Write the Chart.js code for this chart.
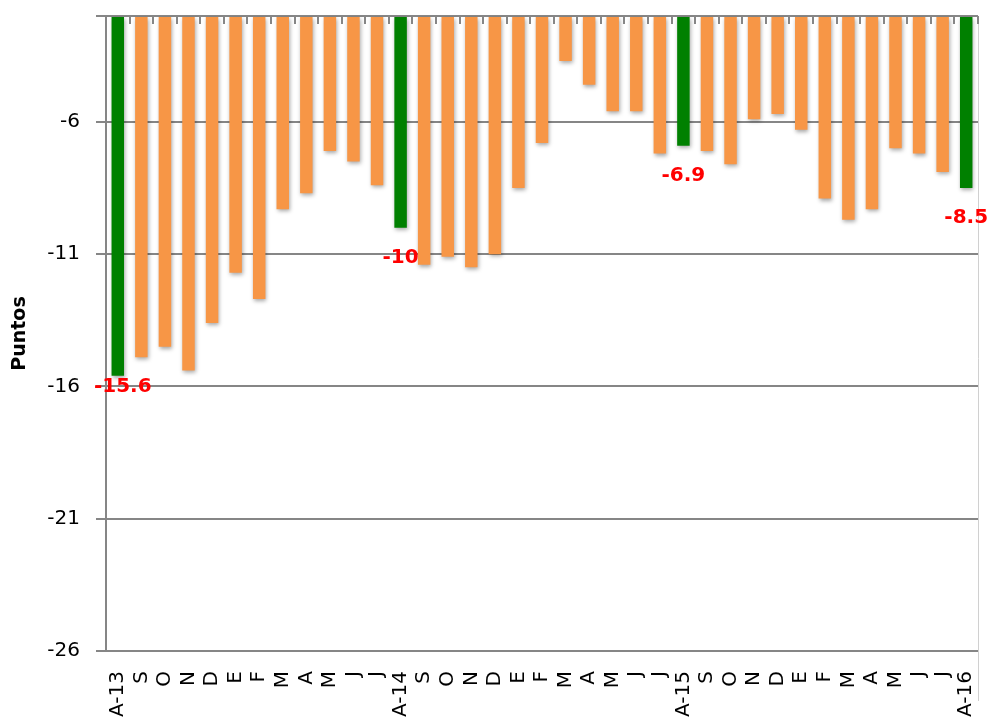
<!DOCTYPE html>
<html>
<head>
<meta charset="utf-8">
<script src="https://cdn.jsdelivr.net/npm/chart.js@4/dist/chart.umd.min.js"></script>
<style>
  html, body { margin: 0; padding: 0; background: #fff; }
  #wrap { width: 991px; height: 723px; }
</style>
</head>
<body>
<div id="wrap"><canvas id="puntosChart" width="991" height="723"></canvas></div>
<script>
const labels = ['A-13', 'S', 'O', 'N', 'D', 'E', 'F', 'M', 'A', 'M', 'J', 'J',
  'A-14', 'S', 'O', 'N', 'D', 'E', 'F', 'M', 'A', 'M', 'J', 'J',
  'A-15', 'S', 'O', 'N', 'D', 'E', 'F', 'M', 'A', 'M', 'J', 'J',
  'A-16'];

const values = [-15.6, -14.9, -14.5, -15.4, -13.6, -11.7, -12.7, -9.3, -8.7, -7.1, -7.5, -8.4,
  -10.0, -11.4, -11.1, -11.5, -11.0, -8.5, -6.8, -3.7, -4.6, -5.6, -5.6, -7.2,
  -6.9, -7.1, -7.6, -5.9, -5.7, -6.3, -8.9, -9.7, -9.3, -7.0, -7.2, -7.9,
  -8.5];

// August of each year is highlighted and labelled
const highlighted = ['A-13', 'A-14', 'A-15', 'A-16'];

const yTicks = [-26, -21, -16, -11, -6, -2];
const yMin = -26;
const yMax = -2;

const ORANGE = '#F79646';
const GREEN = '#008000';
const GRID = '#868686';
const FONT = '"DejaVu Sans", Verdana, sans-serif';

const barColors = labels.map(l => highlighted.includes(l) ? GREEN : ORANGE);

const shadowPlugin = {
  id: 'barShadow',
  beforeDatasetsDraw(chart) {
    const c = chart.ctx;
    c.save();
    c.shadowColor = 'rgba(0,0,0,0.35)';
    c.shadowBlur = 4;
    c.shadowOffsetX = 1;
    c.shadowOffsetY = 2;
  },
  afterDatasetsDraw(chart) {
    chart.ctx.restore();
  }
};

const framePlugin = {
  id: 'frame',
  afterDraw(chart) {
    const c = chart.ctx;
    const area = chart.chartArea;
    const x = chart.scales.x;
    c.save();
    // light right border
    c.strokeStyle = '#d0d0d0';
    c.lineWidth = 1;
    c.beginPath();
    c.moveTo(area.right + 0.5, area.top);
    c.lineTo(area.right + 0.5, area.bottom + 50);
    c.stroke();
    // small category tick marks hanging from the top axis
    c.strokeStyle = GRID;
    c.lineWidth = 2;
    const half = (x.getPixelForValue(1) - x.getPixelForValue(0)) / 2;
    for (let i = 0; i <= labels.length; i++) {
      const px = Math.round(x.getPixelForValue(i) - half);
      c.beginPath();
      c.moveTo(px, area.top);
      c.lineTo(px, area.top + 8);
      c.stroke();
    }
    // red value labels under the highlighted bars
    const meta = chart.getDatasetMeta(0);
    c.fillStyle = '#FF0000';
    c.font = 'bold 20px ' + FONT;
    c.textAlign = 'center';
    c.textBaseline = 'middle';
    meta.data.forEach((bar, i) => {
      if (!highlighted.includes(labels[i])) return;
      const dy = i === 0 ? 11 : 30;
      const txt = Number.isInteger(values[i]) ? String(values[i]) : values[i].toFixed(1);
      c.fillText(txt, bar.x + (i === 0 ? 5 : 0), bar.y + dy);
    });
    c.restore();
  }
};

const ctx = document.getElementById('puntosChart').getContext('2d');

const puntosChart = new Chart(ctx, {
  type: 'bar',
  data: {
    labels: labels,
    datasets: [{
      data: values,
      base: yMax,
      backgroundColor: barColors,
      borderWidth: 0,
      barPercentage: 0.53,
      categoryPercentage: 1
    }]
  },
  options: {
    responsive: false,
    animation: false,
    devicePixelRatio: 1,
    layout: {
      padding: { top: 16, right: 13, left: 0, bottom: 0 }
    },
    plugins: {
      legend: { display: false },
      tooltip: { enabled: false }
    },
    scales: {
      x: {
        grid: { display: false, drawTicks: false },
        border: { display: false },
        ticks: {
          color: '#000',
          minRotation: 90,
          maxRotation: 90,
          autoSkip: false,
          padding: 20,
          font: { family: FONT, size: 20 }
        },
        afterFit(scale) {
          scale.height = 72;
          scale.paddingLeft = 0;
          scale.paddingRight = 0;
        }
      },
      y: {
        min: yMin,
        max: yMax,
        afterBuildTicks(axis) {
          axis.ticks = yTicks.map(v => ({ value: v }));
        },
        grid: {
          color: GRID,
          lineWidth: 2,
          tickLength: 10,
          tickColor: GRID
        },
        border: { display: true, color: GRID, width: 2 },
        ticks: {
          color: '#000',
          padding: 16,
          font: { family: FONT, size: 20 },
          callback: v => v === yMax ? '' : String(v)
        },
        title: {
          display: true,
          text: 'Puntos',
          color: '#000',
          font: { family: FONT, size: 19, weight: 'bold' },
          padding: { top: 9, bottom: 0 }
        },
        afterFit(scale) {
          scale.width = 106;
          scale.paddingTop = 0;
          scale.paddingBottom = 0;
        }
      }
    }
  },
  plugins: [shadowPlugin, framePlugin]
});
</script>
</body>
</html>
